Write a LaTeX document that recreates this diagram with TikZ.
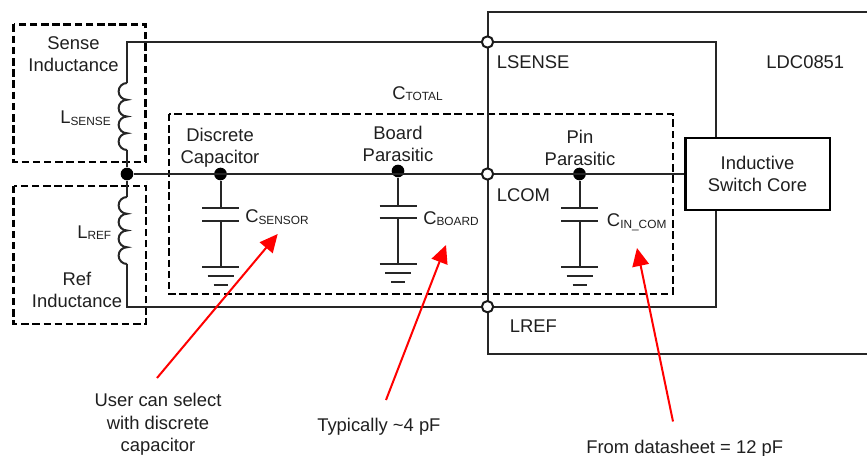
\documentclass[tikz,border=0pt]{standalone}
\usepackage{fontspec}
\setmainfont{Liberation Sans}
\usetikzlibrary{arrows.meta}
\newcommand{\sublabel}[2]{#1{\fontsize{8.9}{10}\selectfont\raisebox{-1.1pt}{#2}}}
\tikzset{
  x=0.75pt,y=-0.75pt,
  txt/.style={inner sep=0pt,font=\fontsize{13.8}{16.5}\selectfont,text=black!88},
  lft/.style={txt,anchor=base west},
  ctr/.style={txt,align=center},
  wire/.style={line width=1.5pt,black!85},
  ic/.style={line width=1.5pt,black!85},
  dashbox/.style={line width=1.7pt,dash pattern=on 5.6pt off 2.8pt},
  dotj/.style={circle,fill=black,inner sep=0pt,minimum size=9.5pt},
  openj/.style={circle,draw=black!90,line width=1.5pt,fill=white,inner sep=0pt,minimum size=8.5pt},
  corebox/.style={draw=black,line width=2pt,fill=white,inner sep=0pt,minimum width=108.5pt,minimum height=54pt,txt,align=center},
  redarrow/.style={red,line width=1.5pt,-{Triangle[length=13.5pt,width=12.5pt]}},
  coil/.pic={\draw[wire] (0,0) arc[start angle=90,end angle=270,radius=6.28pt]
     arc[start angle=90,end angle=270,radius=6.28pt]
     arc[start angle=90,end angle=270,radius=6.28pt]
     arc[start angle=90,end angle=270,radius=6.28pt];},
}
\newcommand{\capgnd}[4]{% x, plate1, plate2, ground
  \draw[wire] (#1-18.5,#2) -- (#1+18.5,#2);
  \draw[wire] (#1-18.5,#3) -- (#1+18.5,#3);
  \draw[wire] (#1-18.5,#4) -- (#1+18.5,#4);
  \draw[wire] (#1-13,#4+9) -- (#1+13,#4+9);
  \draw[wire] (#1-7,#4+18) -- (#1+7,#4+18);
  \draw[wire] (#1,#3) -- (#1,#4);
}
\begin{document}
\begin{tikzpicture}
\useasboundingbox (0,0) rectangle (867,456);
% dashed groups
\draw[dashbox] (13.5,24.5) rectangle (145.5,162);
\draw[dashbox] (13.5,186) rectangle (146,324);
\draw[dashbox] (169,114) rectangle (673,294);
% device
\draw[ic] (867,12) -- (487.5,12) -- (487.5,354) -- (867,354);
% nodes
\node[dotj] (jLeft) at (127,174) {};
\node[dotj] (jDisc) at (220.5,174) {};
\node[dotj] (jBoard) at (398,171) {};
\node[dotj] (jPin) at (579.5,174) {};
\node[corebox] (core) at (757.5,174) {Inductive\\Switch Core};
\coordinate (cornerTL) at (127,42);
\coordinate (cornerTR) at (716,42);
\coordinate (cornerBR) at (716,306.7);
\coordinate (cornerBL) at (127,306.7);
\coordinate (coilAtop) at (127,83);
\coordinate (coilAbot) at (127,150);
\coordinate (coilBtop) at (127,197);
\coordinate (coilBbot) at (127,264);
\coordinate (capDisc) at (220.5,208);
\coordinate (capBoard) at (398,205.7);
\coordinate (capPin) at (579.5,208);
% wires
\draw[wire] (coilAtop) -- (cornerTL) -- (cornerTR) -- (core.north -| cornerTR);
\draw[wire] (core.south -| cornerBR) -- (cornerBR) -- (cornerBL) -- (coilBbot);
\draw[wire] (coilAbot) -- (jLeft) -- (coilBtop);
\draw[wire] (jLeft) -- (core.west);
\draw[wire] (jDisc) -- (capDisc);
\draw[wire] (jBoard) -- (capBoard);
\draw[wire] (jPin) -- (capPin);
\pic at (coilAtop) {coil};
\pic at (coilBtop) {coil};
\capgnd{220.5}{208}{220.7}{267}
\capgnd{398}{205.7}{217.7}{264}
\capgnd{579.5}{208}{220.7}{267}
\node[openj] (oSense) at (487.5,42) {};
\node[openj] (oCom) at (487.5,174) {};
\node[openj] (oRef) at (487.5,306.7) {};
% labels
\node[ctr] (tSense) at (73.5,54.5) {Sense\\Inductance};
\node[ctr] (tRef) at (77,290) {Ref\\Inductance};
\node[ctr] (tDisc) at (220,148) {Discrete\\Capacitor};
\node[ctr] (tBoard) at (398,143.5) {Board\\Parasitic};
\node[ctr] (tPin) at (580,147.5) {Pin\\Parasitic};
\node[lft] (lS) at (60,124) {\sublabel{L}{SENSE}};
\node[lft] (lR) at (77,238) {\sublabel{L}{REF}};
\node[lft] (cS) at (245,222.7) {\sublabel{C}{SENSOR}};
\node[lft] (cT) at (392,99.5) {\sublabel{C}{TOTAL}};
\node[lft] (cB) at (423,224) {\sublabel{C}{BOARD}};
\node[lft] (cI) at (606.7,226.7) {\sublabel{C}{IN\_COM}};
\node[lft] (pS) at (496.5,69) {LSENSE};
\node[lft] (pC) at (496.5,201) {LCOM};
\node[lft] (pR) at (509.5,332.7) {LREF};
\node[lft] (dev) at (766.2,69) {LDC0851};
\node[ctr,font=\fontsize{13.8}{16.9}\selectfont] (n1) at (158,424.5) {User can select\\with discrete\\capacitor};
\node[lft] (n2) at (317,431.7) {Typically \textasciitilde4 pF};
\node[lft] (n3) at (586,453) {From datasheet = 12 pF};
% callouts
\coordinate (a1s) at (157,378); \coordinate (a1e) at (277.7,234);
\coordinate (a2s) at (386,400); \coordinate (a2e) at (446,245);
\coordinate (a3s) at (673,421.5); \coordinate (a3e) at (637,248);
\draw[redarrow] (a1s) -- (a1e);
\draw[redarrow] (a2s) -- (a2e);
\draw[redarrow] (a3s) -- (a3e);
\end{tikzpicture}
\end{document}
